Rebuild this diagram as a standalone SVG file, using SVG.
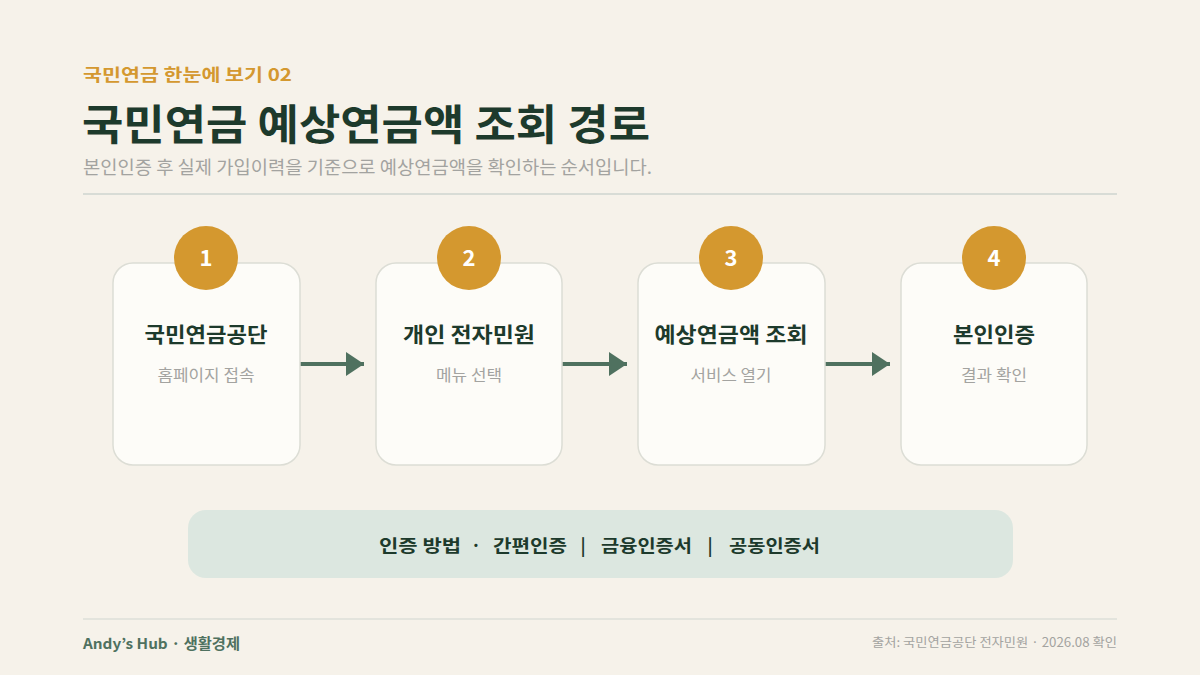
<svg xmlns="http://www.w3.org/2000/svg" width="1200" height="675" viewBox="0 0 1200 675">
<defs>
<marker id="ah" viewBox="0 0 10 10" refX="10" refY="5" markerWidth="18" markerHeight="24" markerUnits="userSpaceOnUse" orient="auto" preserveAspectRatio="none"><path d="M0,0 L10,5 L0,10 Z" fill="#4f715f"/></marker>
<style>
text{font-family:"Noto Sans CJK KR","Noto Sans",sans-serif}
.card{fill:#fdfcf8;stroke:#dcddd5;stroke-width:1.5}
.badge{fill:#d4982f}
.num{fill:#ffffff;font-size:22px;font-weight:700;text-anchor:middle}
.ct{fill:#1d3a2c;font-size:21px;font-weight:700;text-anchor:middle}
.cs{fill:#a3a3a0;font-size:15.5px;text-anchor:middle}
.conn{stroke:#4f715f;stroke-width:4;fill:none}
.pt{font-size:17.5px;font-weight:700;fill:#1d3a2c}
</style>
</defs>
<rect width="1200" height="675" fill="#f6f2ea"/>
<text x="83" y="81" font-size="17" font-weight="700" fill="#d4982f" textLength="209" lengthAdjust="spacingAndGlyphs">국민연금 한눈에 보기 02</text>
<text x="82" y="140" font-size="42" font-weight="700" fill="#1d3a2c" textLength="568" lengthAdjust="spacingAndGlyphs">국민연금 예상연금액 조회 경로</text>
<text x="83" y="174" font-size="18" fill="#a3a3a0" textLength="569" lengthAdjust="spacingAndGlyphs">본인인증 후 실제 가입이력을 기준으로 예상연금액을 확인하는 순서입니다.</text>
<line x1="83" y1="194" x2="1117" y2="194" stroke="#d8dcd6" stroke-width="2"/>
<g id="connectors">
<line class="conn" x1="300" y1="364" x2="364" y2="364" marker-end="url(#ah)"/>
<line class="conn" x1="562" y1="364" x2="627" y2="364" marker-end="url(#ah)"/>
<line class="conn" x1="825" y1="364" x2="890" y2="364" marker-end="url(#ah)"/>
</g>
<g id="step1">
<rect class="card" x="113" y="263" width="187" height="202" rx="20"/>
<circle class="badge" cx="206" cy="258" r="32"/>
<text class="num" x="206" y="266">1</text>
<text class="ct" x="206" y="342" textLength="123" lengthAdjust="spacingAndGlyphs">국민연금공단</text>
<text class="cs" x="206" y="381" textLength="97" lengthAdjust="spacingAndGlyphs">홈페이지 접속</text>
</g>
<g id="step2">
<rect class="card" x="376" y="263" width="186" height="202" rx="20"/>
<circle class="badge" cx="469" cy="258" r="32"/>
<text class="num" x="469" y="266">2</text>
<text class="ct" x="469" y="342" textLength="132" lengthAdjust="spacingAndGlyphs">개인 전자민원</text>
<text class="cs" x="469" y="381" textLength="66" lengthAdjust="spacingAndGlyphs">메뉴 선택</text>
</g>
<g id="step3">
<rect class="card" x="638" y="263" width="187" height="202" rx="20"/>
<circle class="badge" cx="731" cy="258" r="32"/>
<text class="num" x="731" y="266">3</text>
<text class="ct" x="731" y="342" textLength="153" lengthAdjust="spacingAndGlyphs">예상연금액 조회</text>
<text class="cs" x="731" y="381" textLength="81" lengthAdjust="spacingAndGlyphs">서비스 열기</text>
</g>
<g id="step4">
<rect class="card" x="901" y="263" width="186" height="202" rx="20"/>
<circle class="badge" cx="994" cy="258" r="32"/>
<text class="num" x="994" y="266">4</text>
<text class="ct" x="994" y="342" textLength="82" lengthAdjust="spacingAndGlyphs">본인인증</text>
<text class="cs" x="994" y="381" textLength="66" lengthAdjust="spacingAndGlyphs">결과 확인</text>
</g>
<g id="auth">
<rect x="188" y="510" width="825" height="68" rx="18" fill="#dce7e0"/>
<text class="pt" x="379" y="552" textLength="82" lengthAdjust="spacingAndGlyphs">인증 방법</text>
<text class="pt" x="476" y="552" text-anchor="middle">·</text>
<text class="pt" x="493" y="552" textLength="74" lengthAdjust="spacingAndGlyphs">간편인증</text>
<text class="pt" x="583" y="552" text-anchor="middle">|</text>
<text class="pt" x="601" y="552" textLength="91" lengthAdjust="spacingAndGlyphs">금융인증서</text>
<text class="pt" x="710" y="552" text-anchor="middle">|</text>
<text class="pt" x="729" y="552" textLength="91" lengthAdjust="spacingAndGlyphs">공동인증서</text>
</g>
<line x1="83" y1="619" x2="1117" y2="619" stroke="#dcdfd8" stroke-width="1.5"/>
<text x="83" y="649" font-size="14.5" font-weight="700" fill="#4f715f" textLength="157" lengthAdjust="spacingAndGlyphs">Andy’s Hub · 생활경제</text>
<text x="872" y="647" font-size="12.5" fill="#a3a3a0" textLength="245" lengthAdjust="spacingAndGlyphs">출처: 국민연금공단 전자민원 · 2026.08 확인</text>
</svg>
